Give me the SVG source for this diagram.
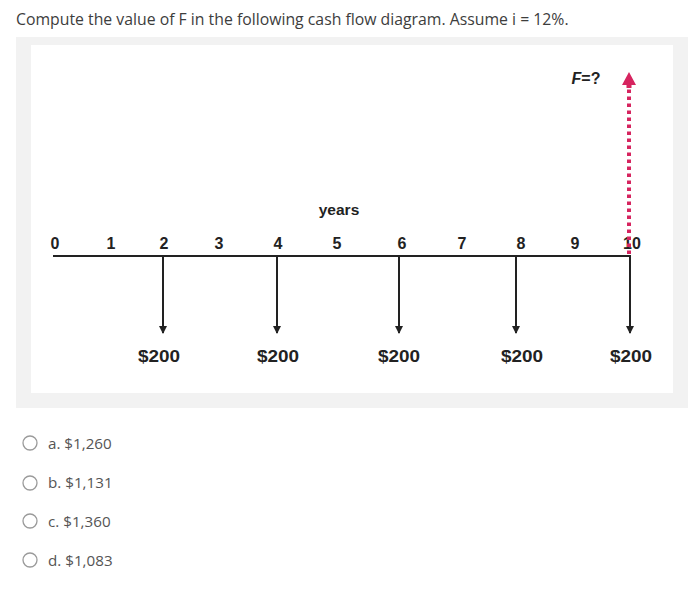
<svg xmlns="http://www.w3.org/2000/svg" width="700" height="589" viewBox="0 0 700 589">
<style>
.title{font-family:"Open Sans","Liberation Sans",sans-serif;font-size:15.8px;fill:#3d3d3d}
.opt{font-family:"Open Sans","Liberation Sans",sans-serif;font-size:15.2px;fill:#555}
.radio{fill:#fff;stroke:#9a9a9a;stroke-width:1.3}
.lbl{font-family:"Liberation Sans",Arial,sans-serif;font-size:16px;font-weight:bold;fill:#222;text-anchor:middle}
.amt{font-family:"Liberation Sans",Arial,sans-serif;font-size:16px;font-weight:bold;fill:#222;text-anchor:middle}
.axis{stroke:#222;stroke-width:2;fill:none}
.fut{stroke:#d6245f;stroke-width:4;stroke-dasharray:3.5 3.5;fill:none}
</style>
<rect width="700" height="589" fill="#fff"/>
<text class="title" x="16" y="25">Compute the value of F in the following cash flow diagram. Assume i = 12%.</text>
<rect x="16" y="37" width="672" height="371" fill="#f2f2f2"/>
<rect x="31" y="45" width="642" height="348" fill="#fff"/>

<g id="axis">
<line class="axis" x1="53" y1="256" x2="631" y2="256"/>
<text class="lbl" x="339" y="215" style="font-size:15.5px">years</text>
</g>
<g id="labels">
<text class="lbl" x="55" y="249">0</text>
<text class="lbl" x="111" y="249">1</text>
<text class="lbl" x="164" y="249">2</text>
<text class="lbl" x="219" y="249">3</text>
<text class="lbl" x="278" y="249">4</text>
<text class="lbl" x="337" y="249">5</text>
<text class="lbl" x="402" y="249">6</text>
<text class="lbl" x="462" y="249">7</text>
<text class="lbl" x="521" y="249">8</text>
<text class="lbl" x="575" y="249">9</text>
<text class="lbl" x="632" y="249">10</text>
</g>
<g id="connectors">
<line x1="163" y1="256" x2="163" y2="333" stroke="#222" stroke-width="2"/>
<path d="M159,326 L167,326 L163,334 Z" fill="#222"/>
<line x1="277" y1="256" x2="277" y2="333" stroke="#222" stroke-width="2"/>
<path d="M273,326 L281,326 L277,334 Z" fill="#222"/>
<line x1="399" y1="256" x2="399" y2="333" stroke="#222" stroke-width="2"/>
<path d="M395,326 L403,326 L399,334 Z" fill="#222"/>
<line x1="516" y1="256" x2="516" y2="333" stroke="#222" stroke-width="2"/>
<path d="M512,326 L520,326 L516,334 Z" fill="#222"/>
<line x1="630" y1="256" x2="630" y2="333" stroke="#222" stroke-width="2"/>
<path d="M626,326 L634,326 L630,334 Z" fill="#222"/>
<line class="fut" x1="629" y1="254" x2="629" y2="86"/>
<path d="M622,85 L626.5,85 L626.5,88 L631.5,88 L631.5,85 L636,85 L629,72 Z" fill="#d6245f"/>
</g>
<g id="amounts">
<text class="amt" x="159" y="362" textLength="42" lengthAdjust="spacingAndGlyphs">$200</text>
<text class="amt" x="278" y="362" textLength="42" lengthAdjust="spacingAndGlyphs">$200</text>
<text class="amt" x="399" y="362" textLength="42" lengthAdjust="spacingAndGlyphs">$200</text>
<text class="amt" x="522" y="362" textLength="42" lengthAdjust="spacingAndGlyphs">$200</text>
<text class="amt" x="631" y="362" textLength="42" lengthAdjust="spacingAndGlyphs">$200</text>
</g>
<g id="future">
<text x="586" y="84" style="font-family:'Liberation Sans',Arial,sans-serif;font-size:16px;font-weight:bold;fill:#222;text-anchor:middle"><tspan font-style="italic">F</tspan>=?</text>
</g>
<g id="options">
<g id="opt-a"><circle class="radio" cx="30" cy="443" r="7"/><text class="opt" x="48" y="449">a. $1,260</text></g>
<g id="opt-b"><circle class="radio" cx="30" cy="483" r="7"/><text class="opt" x="48" y="488">b. $1,131</text></g>
<g id="opt-c"><circle class="radio" cx="30" cy="521" r="7"/><text class="opt" x="48" y="527">c. $1,360</text></g>
<g id="opt-d"><circle class="radio" cx="30" cy="560" r="7"/><text class="opt" x="48" y="566">d. $1,083</text></g>
</g>
</svg>
